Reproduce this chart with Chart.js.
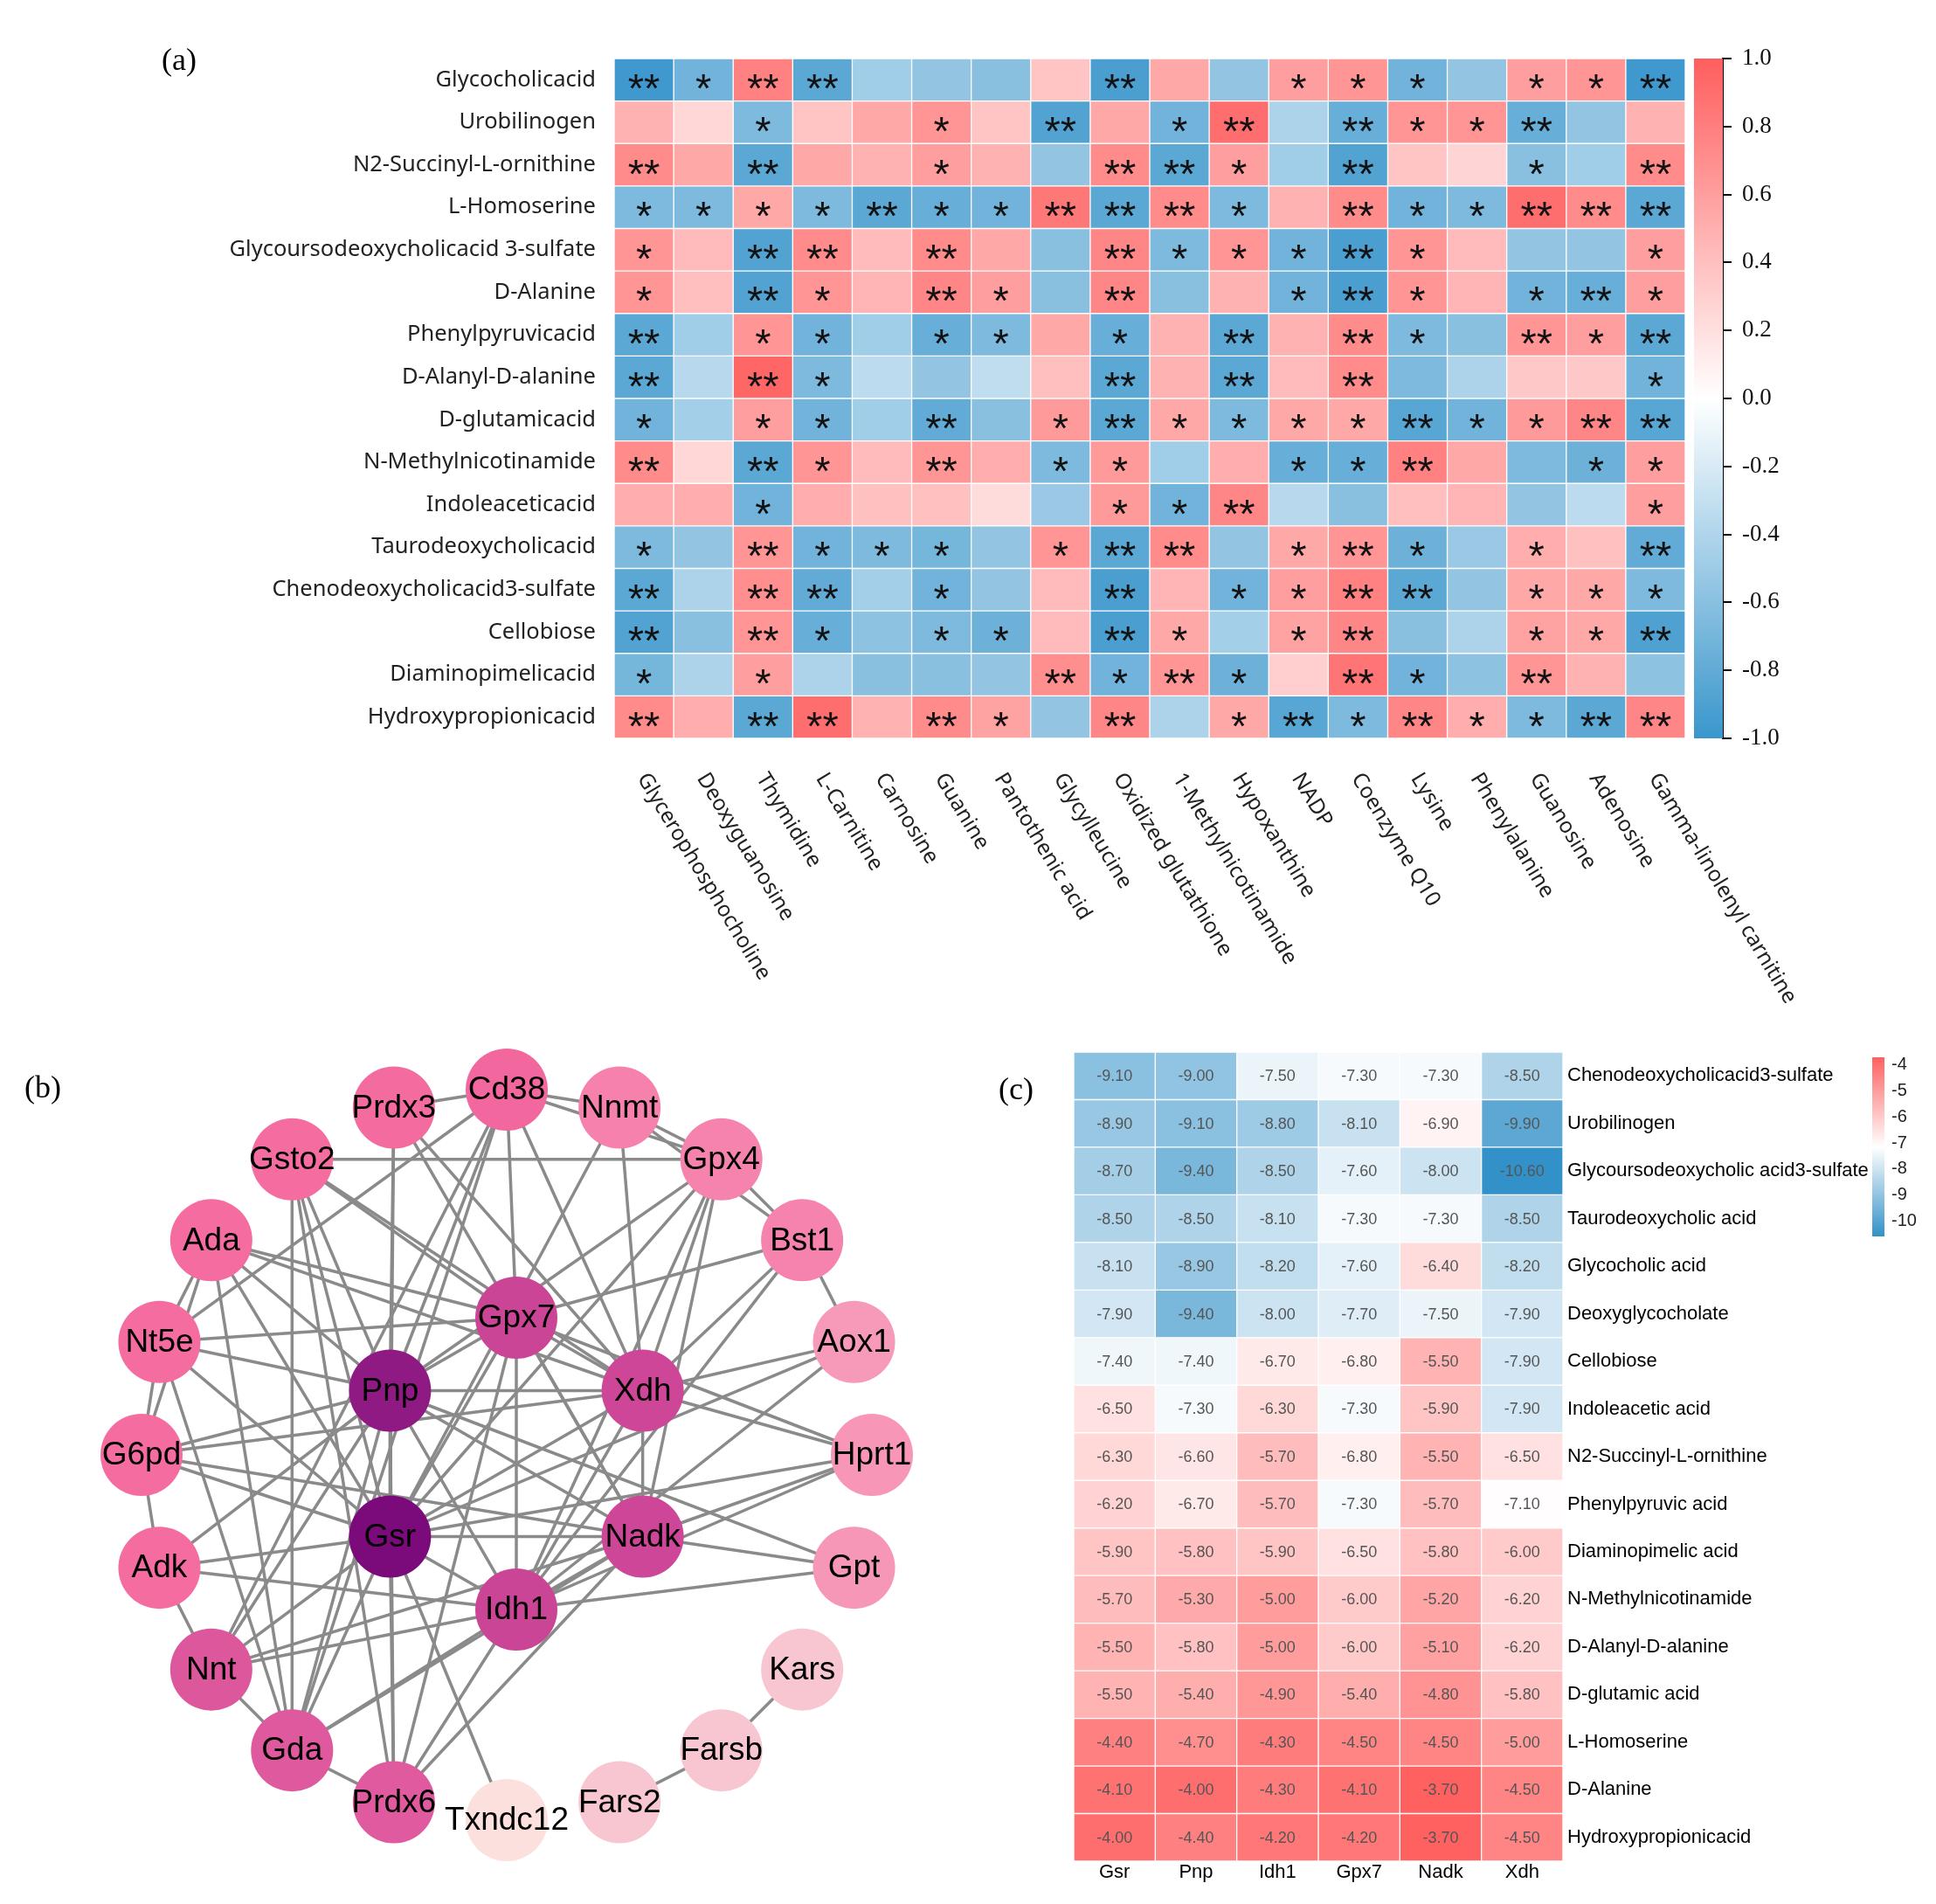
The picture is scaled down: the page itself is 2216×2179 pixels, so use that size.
<!DOCTYPE html>
<html><head><meta charset="utf-8">
<script src="https://cdn.jsdelivr.net/npm/chart.js@4.4.1/dist/chart.umd.min.js"></script>
<style>
html,body{margin:0;padding:0;background:#fff;}
body{width:2216px;height:2179px;position:relative;overflow:hidden;}
canvas{position:absolute;}
.plabel{position:absolute;font-family:"Liberation Serif","Times New Roman",serif;font-size:36px;color:#000;line-height:36px;}
</style></head><body>
<canvas id="cA" style="left:0;top:0" width="2216" height="1180"></canvas>
<canvas id="cAbar" style="left:1920px;top:30px" width="230" height="860"></canvas>
<canvas id="cB" style="left:0;top:1180px" width="1100" height="999"></canvas>
<canvas id="cC" style="left:1097px;top:1180px" width="1119" height="999"></canvas>
<canvas id="cCbar" style="left:2127px;top:1190px" width="89" height="250"></canvas>
<div class="plabel" style="left:185px;top:50px">(a)</div>
<div class="plabel" style="left:28px;top:1226px">(b)</div>
<div class="plabel" style="left:1143px;top:1228px">(c)</div>
<script>
// ---------------- Panel (a): correlation heatmap ----------------
const corrCols = ['Glycerophosphocholine','Deoxyguanosine','Thymidine','L-Carnitine','Carnosine','Guanine','Pantothenic acid','Glycylleucine','Oxidized glutathione','1-Methylnicotinamide','Hypoxanthine','NADP','Coenzyme Q10','Lysine','Phenylalanine','Guanosine','Adenosine','Gamma-linolenyl carnitine'];
const corrRowNames = ['Glycocholicacid','Urobilinogen','N2-Succinyl-L-ornithine','L-Homoserine','Glycoursodeoxycholicacid 3-sulfate','D-Alanine','Phenylpyruvicacid','D-Alanyl-D-alanine','D-glutamicacid','N-Methylnicotinamide','Indoleaceticacid','Taurodeoxycholicacid','Chenodeoxycholicacid3-sulfate','Cellobiose','Diaminopimelicacid','Hydroxypropionicacid'];

const rGlycocholicacid   = [-0.97,-0.72, 0.78,-0.83,-0.48,-0.55,-0.60, 0.36,-0.92, 0.54,-0.55, 0.60, 0.66,-0.72,-0.55, 0.60, 0.66,-0.97];
const rUrobilinogen      = [ 0.48, 0.25,-0.66, 0.36, 0.54, 0.66, 0.36,-0.88, 0.54,-0.72, 0.90,-0.42,-0.77, 0.66, 0.66,-0.77,-0.55, 0.48];
const rN2Succinyl        = [ 0.72, 0.54,-0.83, 0.54, 0.48, 0.60, 0.48,-0.55, 0.72,-0.83, 0.60,-0.48,-0.88, 0.36, 0.27,-0.60,-0.48, 0.72];
const rLHomoserine       = [-0.66,-0.66, 0.54,-0.66,-0.83,-0.77,-0.72, 0.84,-0.83, 0.72,-0.66, 0.48, 0.72,-0.72,-0.66, 0.90, 0.72,-0.83];
const rGlycourso         = [ 0.66, 0.42,-0.88, 0.72, 0.42, 0.72, 0.54,-0.60, 0.75,-0.66, 0.66,-0.72,-0.92, 0.66, 0.42,-0.55,-0.55, 0.60];
const rDAlanine          = [ 0.66, 0.40,-0.88, 0.66, 0.46, 0.75, 0.60,-0.60, 0.75,-0.60, 0.48,-0.72,-0.92, 0.66, 0.46,-0.72,-0.77, 0.60];
const rPhenylpyruvic     = [-0.83,-0.48, 0.66,-0.72,-0.48,-0.77,-0.66, 0.54,-0.77, 0.48,-0.83, 0.48, 0.72,-0.66,-0.60, 0.66, 0.60,-0.83];
const rDAlanylDAlanine   = [-0.83,-0.36, 0.95,-0.66,-0.34,-0.55,-0.32, 0.40,-0.83, 0.48,-0.83, 0.42, 0.72,-0.66,-0.42, 0.34, 0.34,-0.72];
const rDGlutamic         = [-0.72,-0.46, 0.60,-0.72,-0.48,-0.80,-0.60, 0.63,-0.83, 0.54,-0.66, 0.54, 0.54,-0.85,-0.72, 0.63, 0.75,-0.85];
const rNMethylnicot      = [ 0.72, 0.25,-0.83, 0.66, 0.42, 0.66, 0.51,-0.66, 0.63,-0.48, 0.51,-0.77,-0.77, 0.78, 0.54,-0.66,-0.74, 0.60];
const rIndoleacetic      = [ 0.51, 0.51,-0.72, 0.51, 0.39, 0.39, 0.22,-0.51, 0.63,-0.72, 0.75,-0.36,-0.60, 0.40, 0.46,-0.55,-0.34, 0.60];
const rTaurodeoxy        = [-0.66,-0.55, 0.66,-0.72,-0.66,-0.70,-0.55, 0.66,-0.83, 0.72,-0.55, 0.54, 0.66,-0.74,-0.51, 0.51, 0.39,-0.80];
const rChenodeoxy        = [-0.83,-0.42, 0.70,-0.80,-0.46,-0.72,-0.55, 0.42,-0.92, 0.46,-0.72, 0.60, 0.78,-0.83,-0.55, 0.54, 0.54,-0.66];
const rCellobiose        = [-0.88,-0.60, 0.66,-0.77,-0.58,-0.66,-0.74, 0.42,-0.92, 0.54,-0.46, 0.58, 0.75,-0.60,-0.42, 0.58, 0.54,-0.90];
const rDiaminopimelic    = [-0.70,-0.42, 0.60,-0.42,-0.60,-0.60,-0.55, 0.70,-0.72, 0.66,-0.74, 0.30, 0.86,-0.72,-0.58, 0.66, 0.48,-0.58];
const rHydroxypropionic  = [ 0.72, 0.51,-0.83, 0.90, 0.48, 0.72, 0.58,-0.55, 0.75,-0.42, 0.54,-0.85,-0.66, 0.75, 0.51,-0.66,-0.83, 0.75];

const sGlycocholicacid   = ['**','*','**','**','','','','','**','','','*','*','*','','*','*','**'];
const sUrobilinogen      = ['','','*','','','*','','**','','*','**','','**','*','*','**','',''];
const sN2Succinyl        = ['**','','**','','','*','','','**','**','*','','**','','','*','','**'];
const sLHomoserine       = ['*','*','*','*','**','*','*','**','**','**','*','','**','*','*','**','**','**'];
const sGlycourso         = ['*','','**','**','','**','','','**','*','*','*','**','*','','','','*'];
const sDAlanine          = ['*','','**','*','','**','*','','**','','','*','**','*','','*','**','*'];
const sPhenylpyruvic     = ['**','','*','*','','*','*','','*','','**','','**','*','','**','*','**'];
const sDAlanylDAlanine   = ['**','','**','*','','','','','**','','**','','**','','','','','*'];
const sDGlutamic         = ['*','','*','*','','**','','*','**','*','*','*','*','**','*','*','**','**'];
const sNMethylnicot      = ['**','','**','*','','**','','*','*','','','*','*','**','','','*','*'];
const sIndoleacetic      = ['','','*','','','','','','*','*','**','','','','','','','*'];
const sTaurodeoxy        = ['*','','**','*','*','*','','*','**','**','','*','**','*','','*','','**'];
const sChenodeoxy        = ['**','','**','**','','*','','','**','','*','*','**','**','','*','*','*'];
const sCellobiose        = ['**','','**','*','','*','*','','**','*','','*','**','','','*','*','**'];
const sDiaminopimelic    = ['*','','*','','','','','**','*','**','*','','**','*','','**','',''];
const sHydroxypropionic  = ['**','','**','**','','**','*','','**','','*','**','*','**','*','*','**','**'];

const corrRows = [rGlycocholicacid,rUrobilinogen,rN2Succinyl,rLHomoserine,rGlycourso,rDAlanine,rPhenylpyruvic,rDAlanylDAlanine,rDGlutamic,rNMethylnicot,rIndoleacetic,rTaurodeoxy,rChenodeoxy,rCellobiose,rDiaminopimelic,rHydroxypropionic];
const corrSig = [sGlycocholicacid,sUrobilinogen,sN2Succinyl,sLHomoserine,sGlycourso,sDAlanine,sPhenylpyruvic,sDAlanylDAlanine,sDGlutamic,sNMethylnicot,sIndoleacetic,sTaurodeoxy,sChenodeoxy,sCellobiose,sDiaminopimelic,sHydroxypropionic];
const corrTicks = [-1.0,-0.8,-0.6,-0.4,-0.2,0.0,0.2,0.4,0.6,0.8,1.0];

// ---------------- Panel (b): PPI network ----------------
const outerRing = ['Cd38','Nnmt','Gpx4','Bst1','Aox1','Hprt1','Gpt','Kars','Farsb','Fars2','Txndc12','Prdx6','Gda','Nnt','Adk','G6pd','Nt5e','Ada','Gsto2','Prdx3'];
const innerRing = ['Gpx7','Xdh','Nadk','Idh1','Gsr','Pnp'];
const edges = [
 ['Prdx3','Cd38'],['Cd38','Nnmt'],['Cd38','Gpx4'],['Nnmt','Gpx4'],['Gsto2','Gpx4'],['Gpx4','Bst1'],['Nnmt','Bst1'],['Bst1','Aox1'],
 ['Ada','Nt5e'],['Ada','G6pd'],['Nt5e','G6pd'],['G6pd','Adk'],['Adk','Nnt'],['Nnt','Gda'],['Gda','Prdx6'],['Kars','Farsb'],['Farsb','Fars2'],
 ['Nt5e','Cd38'],['Nt5e','Gda'],['Ada','Gda'],['Gsto2','Gda'],['Gsto2','Prdx6'],['Cd38','Nnt'],['Cd38','Gda'],['Nnmt','Gsr'],
 ['Gsr','Pnp'],['Gsr','Xdh'],['Gsr','Nadk'],['Gsr','Idh1'],['Gsr','Gpx7'],['Gsr','Prdx3'],['Gsr','Gsto2'],['Gsr','Ada'],['Gsr','Nt5e'],['Gsr','G6pd'],
 ['Gsr','Adk'],['Gsr','Nnt'],['Gsr','Gda'],['Gsr','Prdx6'],['Gsr','Txndc12'],['Gsr','Gpx4'],['Gsr','Aox1'],['Gsr','Hprt1'],
 ['Pnp','Xdh'],['Pnp','Nadk'],['Pnp','Idh1'],['Pnp','Gpx7'],['Pnp','Prdx3'],['Pnp','Gsto2'],['Pnp','Ada'],['Pnp','Nt5e'],['Pnp','G6pd'],['Pnp','Adk'],
 ['Pnp','Nnt'],['Pnp','Gda'],['Pnp','Prdx6'],['Pnp','Gpx4'],['Pnp','Gpt'],['Pnp','Cd38'],
 ['Xdh','Gpx7'],['Xdh','Nadk'],['Xdh','Idh1'],['Xdh','Aox1'],['Xdh','Hprt1'],['Xdh','Gpx4'],['Xdh','Bst1'],['Xdh','Nnmt'],['Xdh','Cd38'],['Xdh','Ada'],['Xdh','Gsto2'],['Xdh','G6pd'],['Xdh','Prdx3'],
 ['Nadk','Gpx7'],['Nadk','Idh1'],['Nadk','Gpt'],['Nadk','Hprt1'],['Nadk','Gpx4'],['Nadk','G6pd'],['Nadk','Nnt'],['Nadk','Gda'],['Nadk','Prdx6'],['Nadk','Prdx3'],
 ['Idh1','Gpx7'],['Idh1','Gpt'],['Idh1','Nnt'],['Idh1','Gda'],['Idh1','Prdx6'],['Idh1','Bst1'],['Idh1','Aox1'],['Idh1','Hprt1'],['Idh1','Gpx4'],['Idh1','Adk'],
 ['Gpx7','Ada'],['Gpx7','Nt5e'],['Gpx7','Gsto2'],['Gpx7','Bst1'],['Gpx7','Hprt1'],['Gpx7','Prdx6'],['Gpx7','Cd38']
];

// ---------------- Panel (c): docking score heatmap ----------------
const dockCols = ['Gsr','Pnp','Idh1','Gpx7','Nadk','Xdh'];
const dockRowNames = ['Chenodeoxycholicacid3-sulfate','Urobilinogen','Glycoursodeoxycholic acid3-sulfate','Taurodeoxycholic acid','Glycocholic acid','Deoxyglycocholate','Cellobiose','Indoleacetic acid','N2-Succinyl-L-ornithine','Phenylpyruvic acid','Diaminopimelic acid','N-Methylnicotinamide','D-Alanyl-D-alanine','D-glutamic acid','L-Homoserine','D-Alanine','Hydroxypropionicacid'];
const gsrScore  = [-9.10,-8.90,-8.70,-8.50,-8.10,-7.90,-7.40,-6.50,-6.30,-6.20,-5.90,-5.70,-5.50,-5.50,-4.40,-4.10,-4.00];
const pnpScore  = [-9.00,-9.10,-9.40,-8.50,-8.90,-9.40,-7.40,-7.30,-6.60,-6.70,-5.80,-5.30,-5.80,-5.40,-4.70,-4.00,-4.40];
const idh1Score = [-7.50,-8.80,-8.50,-8.10,-8.20,-8.00,-6.70,-6.30,-5.70,-5.70,-5.90,-5.00,-5.00,-4.90,-4.30,-4.30,-4.20];
const gpx7Score = [-7.30,-8.10,-7.60,-7.30,-7.60,-7.70,-6.80,-7.30,-6.80,-7.30,-6.50,-6.00,-6.00,-5.40,-4.50,-4.10,-4.20];
const nadkScore = [-7.30,-6.90,-8.00,-7.30,-6.40,-7.50,-5.50,-5.90,-5.50,-5.70,-5.80,-5.20,-5.10,-4.80,-4.50,-3.70,-3.70];
const xdhScore  = [-8.50,-9.90,-10.60,-8.50,-8.20,-7.90,-7.90,-7.90,-6.50,-7.10,-6.00,-6.20,-6.20,-5.80,-5.00,-4.50,-4.50];
const dockScores = [gsrScore,pnpScore,idh1Score,gpx7Score,nadkScore,xdhScore];
const dockTicks = [-4,-5,-6,-7,-8,-9,-10];

// ---------------- styles ----------------
const RED = [255,94,94], BLUE = [58,150,204];
function mix(end, t){ t=Math.max(0,Math.min(1,t)); return 'rgb('+[0,1,2].map(i=>Math.round(255+(end[i]-255)*t)).join(',')+')'; }
function colA(v){ return v>=0 ? mix(RED, v) : mix(BLUE, -v); }
const C_MIN=-10.6, C_MAX=-3.7, C_MID=-7.15;
const RED_C=[255,96,96], BLUE_C=[50,145,200];
function colC(v){ return v>=C_MID ? mix(RED_C,(v-C_MID)/(C_MAX-C_MID)) : mix(BLUE_C,(C_MID-v)/(C_MID-C_MIN)); }
const nodeColor = {Gsr:'#7b0a7b',Pnp:'#8f1a84',Gpx7:'#cb4596',Xdh:'#cd4697',Nadk:'#cd4697',Idh1:'#cb4596',
 Nnt:'#dd579d',Gda:'#de599d',Prdx6:'#df5a9e',Prdx3:'#f46ba0',Cd38:'#f2679e',Gsto2:'#f56ca1',Ada:'#f56ca1',Nt5e:'#f56ca1',G6pd:'#f56ca1',Adk:'#f56ca1',
 Nnmt:'#f681ad',Gpx4:'#f683ae',Bst1:'#f683ae',Aox1:'#f799b8',Hprt1:'#f796b6',Gpt:'#f797b7',Kars:'#f8c6d0',Farsb:'#f8c6d0',Fars2:'#f8c6d0',Txndc12:'#fce0dd'};

Chart.defaults.animation = false;
Chart.defaults.responsive = false;
Chart.defaults.devicePixelRatio = 1;
Chart.defaults.layout.autoPadding = false;
Chart.defaults.plugins.legend.display = false;
Chart.defaults.plugins.tooltip.enabled = false;
Chart.defaults.events = [];

function gradientFill(ctx, lo, hi, colFn){
  const ch = ctx.chart, y = ch.scales && ch.scales.y;
  if (!y || !ch.chartArea) return 'rgba(0,0,0,0)';
  const p0 = y.getPixelForValue(lo), p1 = y.getPixelForValue(hi);
  if (!isFinite(p0) || !isFinite(p1)) return 'rgba(0,0,0,0)';
  const g = ch.ctx.createLinearGradient(0, p0, 0, p1);
  for (let i = 0; i <= 20; i++){ g.addColorStop(i / 20, colFn(lo + (hi - lo) * i / 20)); }
  return g;
}

// ----- chart (a) -----
const starPlugin = { id:'stars', afterDatasetsDraw(chart){
  const ctx = chart.ctx; ctx.save();
  ctx.font = '47px "Liberation Sans", Arial, sans-serif'; ctx.fillStyle = '#111';
  ctx.textAlign = 'center'; ctx.textBaseline = 'alphabetic';
  chart.data.datasets.forEach((ds, c) => {
    chart.getDatasetMeta(c).data.forEach((el, r) => {
      const s = corrSig[r][c]; if (!s) return;
      const p = el.getCenterPoint(); ctx.fillText(s, p.x, p.y + 26);
    });
  });
  ctx.restore();
}};
const colLabelPlugin = { id:'collabels', afterDraw(chart){
  const ctx = chart.ctx, xs = chart.scales.x, area = chart.chartArea; ctx.save();
  ctx.font = '24.5px "Noto Sans", sans-serif'; ctx.fillStyle = '#222';
  ctx.textAlign = 'left'; ctx.textBaseline = 'middle';
  corrCols.forEach((name, c) => {
    ctx.save(); ctx.translate(xs.getPixelForValue(c + 0.5) - 2, area.bottom + 42);
    ctx.rotate(58.8 * Math.PI / 180); ctx.fillText(name, 0, 0); ctx.restore();
  });
  ctx.restore();
}};
new Chart(document.getElementById('cA'), {
  type:'bar',
  data:{ labels: corrRowNames, datasets: corrCols.map((name, c) => ({
    label:name, data: corrRowNames.map(() => [c, c + 1]),
    backgroundColor: corrRows.map(row => colA(row[c])),
    borderColor:'rgba(255,255,255,0.35)', borderWidth:1, borderSkipped:false,
    grouped:false, barPercentage:1, categoryPercentage:1 })) },
  options:{ indexAxis:'y', layout:{ padding:{ left:0, right:287, top:67, bottom:335 } },
    scales:{
      x:{ type:'linear', min:0, max:corrCols.length, display:false },
      y:{ type:'category', position:'left', grid:{ display:false, drawTicks:false }, border:{ display:false },
          ticks:{ font:{ family:'"Noto Sans", sans-serif', size:25.5 }, color:'#222', padding:21, autoSkip:false },
          afterFit(s){ s.width = 703; } }
    } },
  plugins:[starPlugin, colLabelPlugin]
});

// ----- colorbar (a) -----
new Chart(document.getElementById('cAbar'), {
  type:'bar',
  data:{ labels:[''], datasets:[{ data:[[corrTicks[0], corrTicks[corrTicks.length-1]]],
    backgroundColor(ctx){ return gradientFill(ctx, -1, 1, colA); },
    borderWidth:0, barPercentage:1, categoryPercentage:1 }] },
  options:{ layout:{ padding:{ left:19, right:0, top:37, bottom:45 } },
    scales:{
      x:{ type:'category', display:false },
      y:{ type:'linear', position:'right', min:-1, max:1,
          afterBuildTicks(s){ s.ticks = corrTicks.map(v => ({ value:v })); },
          ticks:{ font:{ family:'"Liberation Serif", "Times New Roman", serif', size:27 }, color:'#111', padding:12,
                  callback(v){ return (Math.abs(v) < 1e-9 ? 0 : v).toFixed(1); } },
          grid:{ display:true, drawOnChartArea:false, drawTicks:true, tickLength:10, color:'#000', lineWidth:2 },
          border:{ display:true, color:'#000', width:2 },
          afterFit(s){ s.width = 178; } }
    } }
});

// ----- chart (b) -----
const OUT_R = 418, IN_R = 167, IN_DX = 11, IN_DY = 10;
const nodes = [];
outerRing.forEach((n, i) => { const a = (-90 + i * 360 / outerRing.length) * Math.PI / 180; nodes.push({ name:n, x:OUT_R * Math.cos(a), y:OUT_R * Math.sin(a) }); });
innerRing.forEach((n, i) => { const a = (-90 + i * 360 / innerRing.length) * Math.PI / 180; nodes.push({ name:n, x:IN_DX + IN_R * Math.cos(a), y:IN_DY + IN_R * Math.sin(a) }); });
const pos = {}; nodes.forEach(n => pos[n.name] = n);
const nodeLabelPlugin = { id:'nodelabels', afterDatasetsDraw(chart){
  const ctx = chart.ctx; ctx.save();
  ctx.font = '37px "Liberation Sans", Arial, sans-serif'; ctx.fillStyle = '#000';
  ctx.textAlign = 'center'; ctx.textBaseline = 'middle';
  chart.getDatasetMeta(0).data.forEach((el, i) => ctx.fillText(nodes[i].name, el.x, el.y + 1));
  ctx.restore();
}};
new Chart(document.getElementById('cB'), {
  type:'scatter',
  data:{ datasets:[
    { data: nodes.map(n => ({ x:n.x, y:n.y })), pointRadius:47, pointBackgroundColor: nodes.map(n => nodeColor[n.name]), pointBorderWidth:0, pointHoverRadius:47 }
  ].concat(edges.map(e => ({ data:[{ x:pos[e[0]].x, y:pos[e[0]].y }, { x:pos[e[1]].x, y:pos[e[1]].y }],
      showLine:true, borderColor:'#8a8a8a', borderWidth:3.5, pointRadius:0, fill:false }))) },
  options:{ layout:{ padding:0, autoPadding:false }, clip:false,
    scales:{ x:{ type:'linear', min:-580, max:520, display:false },
             y:{ type:'linear', min:-485, max:514, reverse:true, display:false } } },
  plugins:[nodeLabelPlugin]
});

// ----- chart (c) -----
const valuePlugin = { id:'values', afterDatasetsDraw(chart){
  const ctx = chart.ctx; ctx.save();
  ctx.font = '18px "Liberation Sans", Arial, sans-serif'; ctx.fillStyle = '#555';
  ctx.textAlign = 'center'; ctx.textBaseline = 'middle';
  chart.data.datasets.forEach((ds, c) => {
    chart.getDatasetMeta(c).data.forEach((el, r) => { const p = el.getCenterPoint(); ctx.fillText(dockScores[c][r].toFixed(2), p.x, p.y + 1); });
  });
  ctx.restore();
}};
new Chart(document.getElementById('cC'), {
  type:'bar',
  data:{ labels: dockRowNames, datasets: dockCols.map((name, c) => ({
    label:name, data: dockRowNames.map(() => [c, c + 1]),
    backgroundColor: dockScores[c].map(colC),
    borderColor:'#ffffff', borderWidth:1, borderSkipped:false,
    grouped:false, barPercentage:1, categoryPercentage:1 })) },
  options:{ indexAxis:'y', layout:{ padding:{ left:132, right:0, top:24, bottom:0 } },
    scales:{
      x:{ type:'linear', position:'bottom', min:0, max:dockCols.length,
          afterBuildTicks(s){ s.ticks = dockCols.map((_, i) => ({ value:i + 0.5 })); },
          ticks:{ font:{ family:'"Liberation Sans", Arial, sans-serif', size:22 }, color:'#000', padding:0, autoSkip:false, maxRotation:0,
                  callback(v, i){ return dockCols[i]; } },
          grid:{ display:false, drawTicks:false }, border:{ display:false },
          afterFit(s){ s.height = 49; } },
      y:{ type:'category', position:'right', grid:{ display:false, drawTicks:false }, border:{ display:false },
          ticks:{ font:{ family:'"Liberation Sans", Arial, sans-serif', size:22 }, color:'#000', padding:5, autoSkip:false },
          afterFit(s){ s.width = 427; } }
    } },
  plugins:[valuePlugin]
});

// ----- colorbar (c) -----
new Chart(document.getElementById('cCbar'), {
  type:'bar',
  data:{ labels:[''], datasets:[{ data:[[C_MIN, C_MAX]],
    backgroundColor(ctx){ return gradientFill(ctx, C_MIN, C_MAX, colC); },
    borderWidth:0, barPercentage:1, categoryPercentage:1 }] },
  options:{ layout:{ padding:{ left:16, right:0, top:17, bottom:25 } },
    scales:{
      x:{ type:'category', display:false },
      y:{ type:'linear', position:'right', min:C_MIN, max:C_MAX,
          afterBuildTicks(s){ s.ticks = dockTicks.map(v => ({ value:v })); },
          ticks:{ font:{ family:'"Liberation Sans", Arial, sans-serif', size:20 }, color:'#222', padding:8,
                  callback(v){ return String(v); } },
          grid:{ display:false, drawTicks:false }, border:{ display:false },
          afterFit(s){ s.width = 59; } }
    } }
});
</script>
</body></html>
